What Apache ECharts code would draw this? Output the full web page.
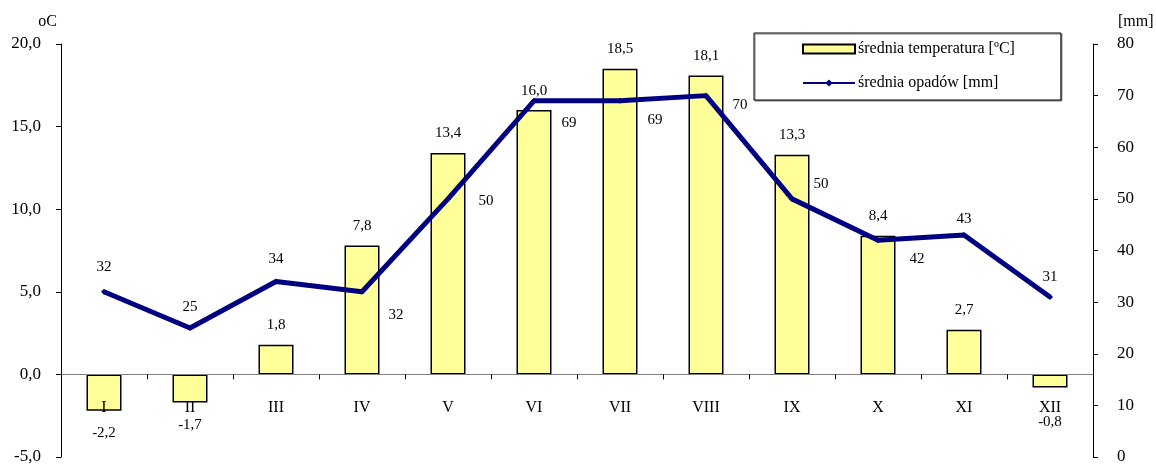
<!DOCTYPE html>
<html>
<head>
<meta charset="utf-8">
<script src="https://cdn.jsdelivr.net/npm/echarts@6/dist/echarts.min.js"></script>
<style>html,body{margin:0;padding:0;background:#fff}#c{width:1156px;height:466px}</style>
</head>
<body>
<div id="c"></div>
<script>
var categories = ['I','II','III','IV','V','VI','VII','VIII','IX','X','XI','XII'];
var temperature = [-2.2, -1.7, 1.8, 7.8, 13.4, 16.0, 18.5, 18.1, 13.3, 8.4, 2.7, -0.8];
var precipitation = [32, 25, 34, 32, 50, 69, 69, 70, 50, 42, 43, 31];
var precipLabelOffsets = [[0,-25],[0,-21],[0,-22],[34,23],[38,2],[35,22],[35,19],[34,9],[29,-15],[39,19],[0,-16],[0,-20]];
var seriesNames = ['średnia temperatura [ºC]', 'średnia opadów [mm]'];

var FONT = "'Liberation Serif', 'Times New Roman', serif";
function comma(v){ return v.toFixed(1).replace('.', ','); }

var barData = temperature.map(function(v, i){
  var item = { value: v };
  if (v < 0) {
    item.label = { position: 'bottom', distance: 15, offset: [0, i === 11 ? 12 : 0] };
  }
  return item;
});
var lineData = precipitation.map(function(v, i){
  return { value: v, label: { position: 'inside', offset: precipLabelOffsets[i] } };
});

var chart = echarts.init(document.getElementById('c'));
chart.setOption({
  animation: false,
  textStyle: { fontFamily: FONT, color: '#000' },
  grid: { left: 61, right: 63, top: 44, bottom: 9, containLabel: false, outerBoundsMode: 'none' },
  legend: {
    orient: 'vertical',
    left: 754, top: 33,
    padding: [8, 46, 9, 48],
    itemWidth: 52, itemHeight: 9, itemGap: 18,
    backgroundColor: '#fff',
    borderColor: '#000', borderWidth: 1,
    shadowColor: '#808080', shadowOffsetX: 1, shadowOffsetY: 1, shadowBlur: 0,
    textStyle: { fontFamily: FONT, fontSize: 16, color: '#000', padding: [0,0,0,-2] },
    data: [{ name: seriesNames[0], icon: 'rect' }, { name: seriesNames[1] }]
  },
  xAxis: {
    type: 'category',
    data: categories,
    z: 5,
    axisLine: { onZero: true, onZeroAxisIndex: 0, lineStyle: { color: '#808080', width: 1 } },
    axisTick: { show: true, alignWithLabel: false, length: 5, inside: false, lineStyle: { color: '#000' } },
    axisLabel: { margin: -57, fontSize: 16, color: '#000', fontFamily: FONT },
    splitLine: { show: false }
  },
  yAxis: [{
    type: 'value',
    min: -5, max: 20, interval: 5,
    name: 'oC',
    nameLocation: 'end',
    nameGap: 14,
    nameTextStyle: { fontFamily: FONT, fontSize: 16, color: '#000', align: 'right', padding: [0, 4, 0, 0] },
    axisLine: { show: true, lineStyle: { color: '#000' } },
    axisTick: { show: true, length: 5, lineStyle: { color: '#000' } },
    axisLabel: { margin: 20, fontSize: 17, color: '#000', fontFamily: FONT, formatter: function(v){ return comma(v); } },
    splitLine: { show: false }
  }, {
    type: 'value',
    min: 0, max: 80, interval: 10,
    name: '[mm]',
    nameLocation: 'end',
    nameGap: 14,
    nameTextStyle: { fontFamily: FONT, fontSize: 16, color: '#000', align: 'left', padding: [0, 0, 0, 25] },
    axisLine: { show: true, lineStyle: { color: '#000' } },
    axisTick: { show: true, length: 5, lineStyle: { color: '#000' } },
    axisLabel: { margin: 24, fontSize: 17, color: '#000', fontFamily: FONT },
    splitLine: { show: false }
  }],
  series: [{
    name: seriesNames[0],
    type: 'bar',
    yAxisIndex: 0,
    data: barData,
    barWidth: 35,
    itemStyle: { color: '#FFFF99', borderColor: '#000', borderWidth: 1.5 },
    label: { show: true, position: 'top', distance: 12, fontSize: 15, color: '#000', fontFamily: FONT,
      formatter: function(p){ return comma(p.value); } }
  }, {
    name: seriesNames[1],
    type: 'line',
    yAxisIndex: 1,
    data: lineData,
    symbol: 'diamond',
    symbolSize: 6,
    lineStyle: { color: '#000080', width: 5 },
    itemStyle: { color: '#000080' },
    label: { show: true, fontSize: 15, color: '#000', fontFamily: FONT }
  }]
});
</script>
</body>
</html>
